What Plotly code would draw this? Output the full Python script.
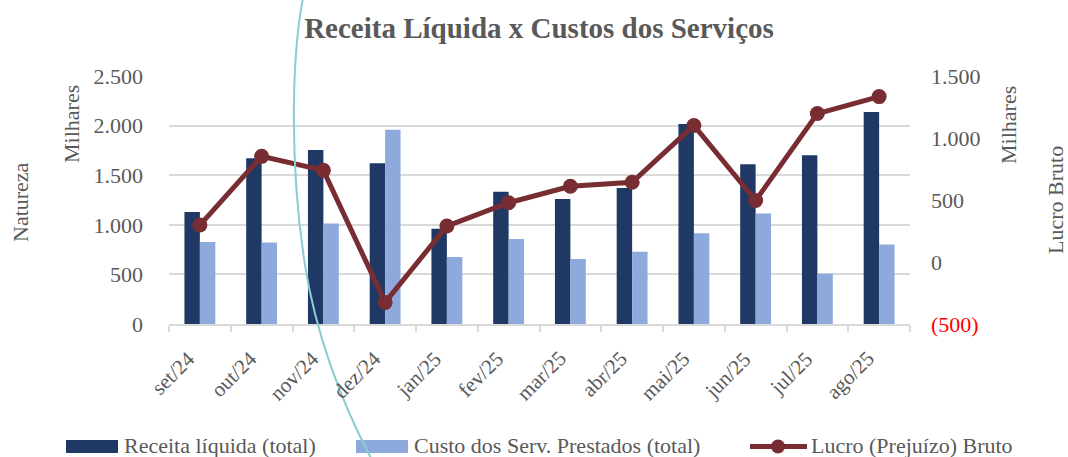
import plotly.graph_objects as go

# ---- data ----
categories = ["set/24", "out/24", "nov/24", "dez/24", "jan/25", "fev/25",
              "mar/25", "abr/25", "mai/25", "jun/25", "jul/25", "ago/25"]
receita = [1130, 1672, 1755, 1621, 960, 1332, 1259, 1370, 2017, 1611, 1702, 2138]
custo = [826, 822, 1013, 1957, 675, 856, 655, 728, 916, 1114, 507, 802]
lucro = [298, 852, 739, -326, 290, 478, 611, 643, 1101, 496, 1197, 1334]

left_ticks = [0, 500, 1000, 1500, 2000, 2500]
left_labels = ["0", "500", "1.000", "1.500", "2.000", "2.500"]
right_ticks = [-500, 0, 500, 1000, 1500]
right_labels = ['<span style="color:#FF0000">(500)</span>', "0", "500", "1.000", "1.500"]

names = ["Receita líquida (total)", "Custo dos Serv. Prestados (total)", "Lucro (Prejuízo) Bruto"]

# ---- styles ----
W, H = 1068, 457
L, R, T, B = 169, 910, 76, 324
DARK = "#1F3864"
LIGHT = "#8EA9DB"
LINE = "#782D33"
GRAY = "#595959"
GRID = "#D9D9D9"
FONT = "Liberation Serif"


def px(x):
    return (x - L) / (R - L)


def py(y):
    return (B - y) / (B - T)


fig = go.Figure()
fig.add_trace(go.Bar(x=categories, y=receita, name=names[0], marker_color=DARK,
                     marker_line_width=0, yaxis="y"))
fig.add_trace(go.Bar(x=categories, y=custo, name=names[1], marker_color=LIGHT,
                     marker_line_width=0, yaxis="y"))
fig.add_trace(go.Scatter(x=categories, y=lucro, name=names[2], mode="lines+markers",
                         line=dict(color=LINE, width=5),
                         marker=dict(color=LINE, size=15), yaxis="y2",
                         cliponaxis=False))

fig.update_layout(
    width=W, height=H,
    margin=dict(l=L, r=W - R, t=T, b=H - B, autoexpand=False),
    paper_bgcolor="white", plot_bgcolor="white",
    font=dict(family=FONT, size=22, color=GRAY),
    barmode="group", bargap=0.5, bargroupgap=0,
    showlegend=False,
    title=dict(text="<b>Receita Líquida x Custos dos Serviços</b>",
               x=539 / W, xanchor="center", y=1 - 28 / H, yanchor="middle",
               font=dict(family=FONT, size=29, color=GRAY)),
    xaxis=dict(range=[-0.5, len(categories) - 0.5], autorange=False,
               showline=True, linecolor=GRID, linewidth=1.5,
               ticks="outside", tickson="boundaries", ticklen=6, tickcolor=GRID,
               tickwidth=1.5, showgrid=False, showticklabels=False),
    yaxis=dict(range=[0, 2500], tickvals=left_ticks, ticktext=left_labels,
               showgrid=True, gridcolor=GRID, gridwidth=1.5, zeroline=False,
               ticks="", ticklabelstandoff=25,
               tickfont=dict(size=22, color=GRAY)),
    yaxis2=dict(range=[-500, 1500], tickvals=right_ticks, ticktext=right_labels,
                overlaying="y", side="right", showgrid=False, zeroline=False,
                ticks="", ticklabelstandoff=20,
                tickfont=dict(size=22, color=GRAY)),
)

# rotated category labels
for c in categories:
    fig.add_annotation(text=c, x=c, xref="x", y=py(344), yref="paper", xshift=3,
                       textangle=-45, showarrow=False, xanchor="right", yanchor="top",
                       font=dict(family=FONT, size=21, color=GRAY))

# axis titles / display units
ann = [
    dict(text="Natureza", x=px(20), y=py(202)),
    dict(text="Milhares", x=px(71), y=py(124)),
    dict(text="Milhares", x=px(1008), y=py(125)),
    dict(text="Lucro Bruto", x=px(1055), y=py(200)),
]
for a in ann:
    fig.add_annotation(text=a["text"], x=a["x"], y=a["y"], xref="paper", yref="paper",
                       textangle=-90, showarrow=False, xanchor="center", yanchor="middle",
                       font=dict(family=FONT, size=22, color=GRAY))

# manual legend
leg_y = 446.5
fig.add_shape(type="rect", xref="paper", yref="paper", x0=px(66), x1=px(118),
              y0=py(440), y1=py(453), fillcolor=DARK, line_width=0)
fig.add_shape(type="rect", xref="paper", yref="paper", x0=px(356), x1=px(408),
              y0=py(440), y1=py(453), fillcolor=LIGHT, line_width=0)
fig.add_shape(type="line", xref="paper", yref="paper", x0=px(750), x1=px(807),
              y0=py(leg_y), y1=py(leg_y), line=dict(color=LINE, width=5))
fig.add_shape(type="circle", xref="paper", yref="paper", x0=px(771), x1=px(785),
              y0=py(leg_y - 7), y1=py(leg_y + 7), fillcolor=LINE, line_width=0)
for xs, t in zip([122, 412, 809], names):
    fig.add_annotation(text=t, x=px(xs), y=py(leg_y - 1), xref="paper", yref="paper",
                       showarrow=False, xanchor="left", yanchor="middle",
                       font=dict(family=FONT, size=22, color=GRAY))

# teal decorative arc
pts = [(303, -2), (291, 60), (290, 170), (305, 265), (315, 330), (340, 400), (372, 460)]
P = [(px(a), py(b)) for a, b in pts]
path = "M {0[0]},{0[1]} C {1[0]},{1[1]} {2[0]},{2[1]} {3[0]},{3[1]} C {4[0]},{4[1]} {5[0]},{5[1]} {6[0]},{6[1]}".format(*P)
fig.add_shape(type="path", path=path, xref="paper", yref="paper",
              line=dict(color="#8CCBCF", width=2), layer="above")

fig.write_html("out.html", config={"displayModeBar": False},
               post_script="document.body.style.margin='0';document.body.style.overflow='hidden';")
